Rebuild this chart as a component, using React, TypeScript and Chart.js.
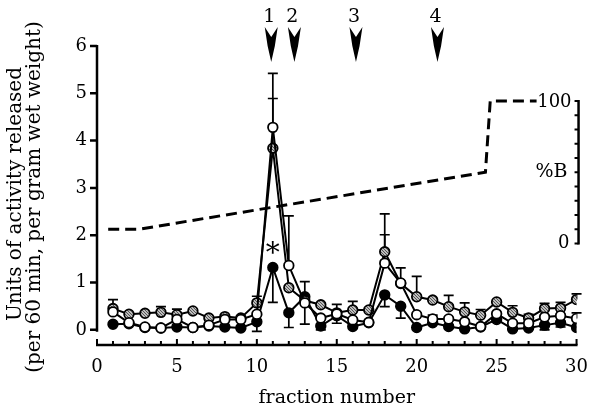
import React, { useEffect, useRef } from "react";
import { Chart, registerables } from "chart.js";
Chart.register(...registerables);

const fractions = [1,2,3,4,5,6,7,8,9,10,11,12,13,14,15,16,17,18,19,20,21,22,23,24,25,26,27,28,29,30];
const whiteValues = [0.38,0.15,0.06,0.04,0.22,0.05,0.1,0.22,0.22,0.33,4.28,1.36,0.57,0.25,0.34,0.21,0.16,1.41,0.99,0.32,0.23,0.23,0.17,0.07,0.34,0.14,0.14,0.27,0.3,0.24];
const grayValues = [0.45,0.33,0.35,0.37,0.32,0.4,0.25,0.28,0.25,0.57,3.84,0.89,0.62,0.53,0.36,0.42,0.42,1.65,0.98,0.7,0.63,0.49,0.38,0.31,0.59,0.37,0.25,0.45,0.46,0.64];
const blackValues = [0.12,0.13,0.05,0.04,0.06,0.05,0.08,0.06,0.04,0.17,1.32,0.36,0.7,0.08,0.3,0.07,0.15,0.74,0.5,0.05,0.15,0.07,0.02,0.06,0.22,0.02,0.04,0.1,0.15,0.05];

const whiteErrUp = [0.26,null,null,null,null,null,null,null,null,null,1.14,1.05,0.45,null,0.2,null,null,0.6,0.32,null,0.08,null,null,null,null,null,null,null,null,0.12];
const whiteErrDown = [null,null,null,null,null,null,null,null,null,null,null,null,0.45,null,0.2,null,null,null,null,null,null,null,null,null,0.17,null,null,null,0.24,null];
const grayErrUp = [null,null,null,0.12,0.12,null,null,null,null,0.14,1.05,null,null,null,null,0.18,null,0.8,null,0.43,null,0.24,0.19,0.12,null,0.14,0.08,0.11,0.12,0.12];
const grayErrDown = [null,null,null,null,null,null,null,null,null,null,null,null,null,null,null,null,null,null,null,null,null,null,null,null,null,null,null,null,null,null];
const blackErrUp = [null,null,null,null,null,null,null,null,null,null,null,null,null,null,null,null,null,null,null,null,null,null,null,null,null,null,null,null,null,null];
const blackErrDown = [null,null,null,null,null,null,null,null,null,0.2,0.74,0.31,null,0.08,null,null,null,0.25,0.25,null,null,null,null,null,null,null,null,0.1,null,null];

const yTicks = [0,1,2,3,4,5,6];
const xTickLabels = [0,5,10,15,20,25,30];
const xMinorTicks = [0,1,2,3,4,5,6,7,8,9,10,11,12,13,14,15,16,17,18,19,20,21,22,23,24,25,26,27,28,29,30];

const gradFractions = [0.7,2.6,24.3,24.6,27.5];
const gradPercentB = [10,10,50,100,100];
const percentBTicks = [0,10,20,30,40,50,60,70,80,90,100];
const percentBLabels = ["0","100"];

const arrowFractions = [10.9,12.35,16.2,21.3];
const arrowLabels = ["1","2","3","4"];
const asteriskFraction = 11;
const asteriskValue = 1.75;

const yTitle = ["Units of activity released", "(per 60 min, per gram wet weight)"];
const xTitle = "fraction number";
const rightTitle = "%B";

const FONT = "DejaVu Serif";

export default function App() {
  const ref = useRef<HTMLCanvasElement>(null);
  useEffect(() => {
    document.body.style.margin = "0";
    const canvas = ref.current!;
    const ctx0 = canvas.getContext("2d")!;
    const pc = document.createElement("canvas");
    pc.width = 3; pc.height = 3;
    const pctx = pc.getContext("2d")!;
    pctx.fillStyle = "#bdbdbd"; pctx.fillRect(0, 0, 3, 3);
    pctx.fillStyle = "#555555";
    pctx.fillRect(0, 0, 1, 1); pctx.fillRect(1, 1, 1, 1); pctx.fillRect(2, 2, 1, 1);
    const grayPattern = ctx0.createPattern(pc, "repeat");

    const toXY = (vals: number[]) => fractions.map((f, i) => ({ x: f, y: vals[i] }));

    const series = [
      { vals: whiteValues, up: whiteErrUp, down: whiteErrDown },
      { vals: grayValues, up: grayErrUp, down: grayErrDown },
      { vals: blackValues, up: blackErrUp, down: blackErrDown },
    ];

    const decor = {
      id: "decor",
      beforeDatasetsDraw(chart: any) {
        const ctx = chart.ctx;
        const xs = chart.scales.x, ys = chart.scales.y;
        ctx.save();
        ctx.strokeStyle = "#000";
        ctx.lineWidth = 1.7;
        series.forEach((s) => {
          fractions.forEach((f, i) => {
            const x = xs.getPixelForValue(f);
            const y0 = ys.getPixelForValue(s.vals[i]);
            const parts: [any, number][] = [[s.up[i], 1], [s.down[i], -1]];
            parts.forEach(([e, dir]) => {
              if (e == null) return;
              const y1 = ys.getPixelForValue(s.vals[i] + dir * e);
              ctx.beginPath();
              ctx.moveTo(x, y0); ctx.lineTo(x, y1);
              ctx.moveTo(x - 5, y1); ctx.lineTo(x + 5, y1);
              ctx.stroke();
            });
          });
        });
        ctx.restore();
      },
      afterDraw(chart: any) {
        const ctx = chart.ctx;
        const xs = chart.scales.x, ys = chart.scales.y, y2 = chart.scales.y2;
        const area = chart.chartArea;
        ctx.save();
        ctx.strokeStyle = "#000";
        ctx.fillStyle = "#000";
        ctx.lineWidth = 2.5;
        ctx.lineCap = "butt";
        // left y axis
        const yl = area.left;
        ctx.beginPath();
        ctx.moveTo(yl, ys.getPixelForValue(6) - 1);
        ctx.lineTo(yl, ys.getPixelForValue(0) + 2);
        yTicks.forEach((t) => {
          const p = ys.getPixelForValue(t);
          ctx.moveTo(yl - 7, p); ctx.lineTo(yl, p);
        });
        ctx.stroke();
        // x axis
        const xb = area.bottom;
        ctx.beginPath();
        ctx.moveTo(xs.getPixelForValue(0) - 1, xb);
        ctx.lineTo(xs.getPixelForValue(30) + 1, xb);
        ctx.stroke();
        ctx.lineWidth = 2;
        ctx.beginPath();
        xMinorTicks.forEach((t) => {
          const p = xs.getPixelForValue(t);
          ctx.moveTo(p, xb); ctx.lineTo(p, xb - (t % 5 === 0 ? 6 : 4));
        });
        ctx.stroke();
        // right %B axis
        const rx = xs.getPixelForValue(30) + 2;
        ctx.lineWidth = 2.5;
        ctx.beginPath();
        ctx.moveTo(rx, y2.getPixelForValue(100) - 1);
        ctx.lineTo(rx, y2.getPixelForValue(0) + 1);
        ctx.stroke();
        ctx.lineWidth = 2;
        ctx.beginPath();
        percentBTicks.forEach((t) => {
          const p = y2.getPixelForValue(t);
          ctx.moveTo(rx - 4, p); ctx.lineTo(rx, p);
        });
        ctx.stroke();
        ctx.font = `18px "${FONT}"`;
        ctx.textAlign = "right";
        ctx.textBaseline = "middle";
        ctx.fillText(percentBLabels[1], rx - 7, y2.getPixelForValue(100) + 1);
        ctx.fillText(percentBLabels[0], rx - 9, y2.getPixelForValue(0));
        ctx.font = `19px "${FONT}"`;
        ctx.fillText(rightTitle, rx - 11, y2.getPixelForValue(50));
        // arrows
        ctx.textAlign = "center";
        ctx.font = `19px "${FONT}"`;
        arrowFractions.forEach((f, i) => {
          const cx = xs.getPixelForValue(f);
          ctx.fillText(arrowLabels[i], cx - 2, 17);
          ctx.beginPath();
          ctx.moveTo(cx - 6.5, 27);
          ctx.lineTo(cx, 37);
          ctx.lineTo(cx + 6.5, 27);
          ctx.lineTo(cx + 3.6, 46);
          ctx.lineTo(cx, 62);
          ctx.lineTo(cx - 3.6, 46);
          ctx.closePath();
          ctx.fill();
        });
        // asterisk
        ctx.font = `28px "${FONT}"`;
        ctx.textBaseline = "alphabetic";
        const m = ctx.measureText("*");
        const ax = xs.getPixelForValue(asteriskFraction);
        const ay = ys.getPixelForValue(asteriskValue);
        ctx.fillText("*", ax, ay + (m.actualBoundingBoxAscent - m.actualBoundingBoxDescent) / 2);
        // y title
        ctx.font = `20px "${FONT}"`;
        ctx.textBaseline = "middle";
        ctx.translate(16, 0);
        ctx.rotate(-Math.PI / 2);
        ctx.fillText(yTitle[0], -194, 0);
        ctx.fillText(yTitle[1], -197, 19);
        ctx.restore();
      },
    };

    const chart = new Chart(canvas, {
      type: "line",
      data: {
        datasets: [
          { label: "white", data: toXY(whiteValues), borderColor: "#000", borderWidth: 2, pointRadius: 4.8, pointBorderWidth: 1.8, pointBackgroundColor: "#fff", pointBorderColor: "#000", order: 0, yAxisID: "y" },
          { label: "gray", data: toXY(grayValues), borderColor: "#000", borderWidth: 2, pointRadius: 4.8, pointBorderWidth: 1.8, pointBackgroundColor: grayPattern as any, pointBorderColor: "#000", order: 1, yAxisID: "y" },
          { label: "black", data: toXY(blackValues), borderColor: "#000", borderWidth: 2, pointRadius: 4.8, pointBorderWidth: 1.8, pointBackgroundColor: "#000", pointBorderColor: "#000", order: 2, yAxisID: "y" },
          { label: "%B", data: gradFractions.map((f, i) => ({ x: f, y: gradPercentB[i] })), borderColor: "#000", borderWidth: 3, borderDash: [11, 6], pointRadius: 0, order: 3, yAxisID: "y2" },
        ],
      },
      options: {
        animation: false,
        responsive: false,
        devicePixelRatio: 1,
        layout: { padding: { top: 46, right: 17, left: 0, bottom: 0 } },
        plugins: { legend: { display: false }, tooltip: { enabled: false } },
        elements: { line: { tension: 0 } },
        scales: {
          x: {
            type: "linear", min: 0, max: 30,
            grid: { display: false, drawTicks: false },
            border: { display: false },
            afterBuildTicks: (s: any) => { s.ticks = xTickLabels.map((v) => ({ value: v })); },
            ticks: { color: "#000", font: { family: FONT, size: 18 }, padding: 12, maxRotation: 0, autoSkip: false },
            title: { display: true, text: xTitle, color: "#000", font: { family: FONT, size: 19 }, padding: { top: 2, bottom: 0 } },
            afterFit: (s: any) => { s.height = 64; },
          },
          y: {
            type: "linear", min: -0.32, max: 6,
            grid: { display: false, drawTicks: false },
            border: { display: false },
            afterBuildTicks: (s: any) => { s.ticks = yTicks.map((v) => ({ value: v })); },
            ticks: { color: "#000", font: { family: FONT, size: 18 }, padding: 10 },
            afterFit: (s: any) => { s.width = 97; },
          },
          y2: { type: "linear", display: false, min: -71.2, max: 138.6 },
        },
      },
      plugins: [decor],
    } as any);
    return () => chart.destroy();
  }, []);
  return (
    <div style={{ position: "absolute", left: 0, top: 0, width: 600, height: 409, background: "#fff" }}>
      <canvas ref={ref} width={600} height={409} />
    </div>
  );
}
